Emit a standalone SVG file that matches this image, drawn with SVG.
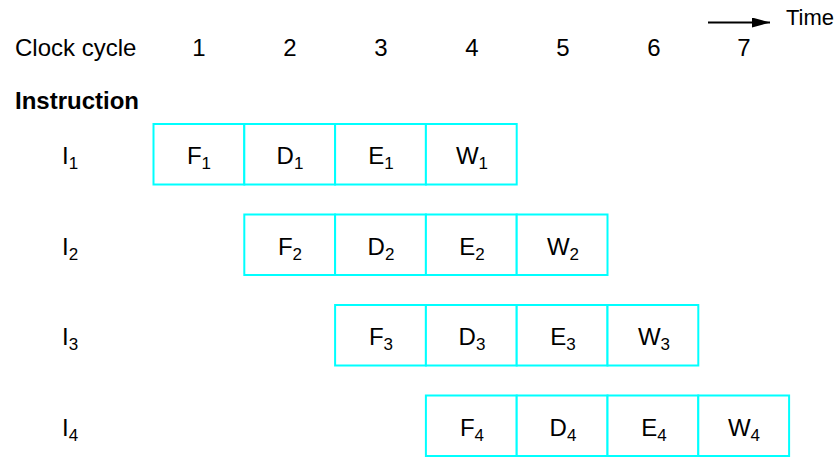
<svg xmlns="http://www.w3.org/2000/svg" width="840" height="458" viewBox="0 0 840 458">
<style>
text{font-family:"Liberation Sans",Arial,sans-serif;font-size:24px;fill:#000}
.b{font-weight:bold}
.c{text-anchor:middle}
.s{font-size:17px}
.t{font-size:22px}
.cell{fill:#fff;stroke:#00ffff;stroke-width:2}
</style>
<defs>
<marker id="ah" markerWidth="18" markerHeight="10" refX="18" refY="5" orient="auto" markerUnits="userSpaceOnUse"><path d="M0,0 L18,5 L0,10 Z" fill="#000"/></marker>
</defs>
<rect width="840" height="458" fill="#fff"/>
<g id="time">
<line x1="708" y1="22.5" x2="770" y2="22.5" stroke="#000" stroke-width="2" marker-end="url(#ah)"/>
<text class="t" x="786" y="25">Time</text>
</g>
<g id="header">
<text x="15" y="56">Clock cycle</text>
<text class="c" x="199" y="56">1</text>
<text class="c" x="290" y="56">2</text>
<text class="c" x="381" y="56">3</text>
<text class="c" x="472" y="56">4</text>
<text class="c" x="563" y="56">5</text>
<text class="c" x="654" y="56">6</text>
<text class="c" x="744" y="56">7</text>
<text class="b" x="15" y="109">Instruction</text>
</g>
<g id="row1">
<text x="62" y="164">I<tspan class="s" dy="5">1</tspan></text>
<rect class="cell" x="153.5" y="124" width="90.8" height="60.5"/>
<rect class="cell" x="244.3" y="124" width="90.8" height="60.5"/>
<rect class="cell" x="335.1" y="124" width="90.8" height="60.5"/>
<rect class="cell" x="425.9" y="124" width="90.8" height="60.5"/>
<text class="c" x="199" y="164">F<tspan class="s" dy="5">1</tspan></text>
<text class="c" x="290" y="164">D<tspan class="s" dy="5">1</tspan></text>
<text class="c" x="381" y="164">E<tspan class="s" dy="5">1</tspan></text>
<text class="c" x="472" y="164">W<tspan class="s" dy="5">1</tspan></text>
</g>
<g id="row2">
<text x="62" y="255">I<tspan class="s" dy="5">2</tspan></text>
<rect class="cell" x="244.3" y="214.5" width="90.8" height="60.5"/>
<rect class="cell" x="335.1" y="214.5" width="90.8" height="60.5"/>
<rect class="cell" x="425.9" y="214.5" width="90.8" height="60.5"/>
<rect class="cell" x="516.7" y="214.5" width="90.8" height="60.5"/>
<text class="c" x="290" y="255">F<tspan class="s" dy="5">2</tspan></text>
<text class="c" x="381" y="255">D<tspan class="s" dy="5">2</tspan></text>
<text class="c" x="472" y="255">E<tspan class="s" dy="5">2</tspan></text>
<text class="c" x="563" y="255">W<tspan class="s" dy="5">2</tspan></text>
</g>
<g id="row3">
<text x="62" y="345">I<tspan class="s" dy="5">3</tspan></text>
<rect class="cell" x="335.1" y="305" width="90.8" height="60.5"/>
<rect class="cell" x="425.9" y="305" width="90.8" height="60.5"/>
<rect class="cell" x="516.7" y="305" width="90.8" height="60.5"/>
<rect class="cell" x="607.5" y="305" width="90.8" height="60.5"/>
<text class="c" x="381" y="345">F<tspan class="s" dy="5">3</tspan></text>
<text class="c" x="472" y="345">D<tspan class="s" dy="5">3</tspan></text>
<text class="c" x="563" y="345">E<tspan class="s" dy="5">3</tspan></text>
<text class="c" x="654" y="345">W<tspan class="s" dy="5">3</tspan></text>
</g>
<g id="row4">
<text x="62" y="436">I<tspan class="s" dy="5">4</tspan></text>
<rect class="cell" x="425.9" y="395.5" width="90.8" height="60.5"/>
<rect class="cell" x="516.7" y="395.5" width="90.8" height="60.5"/>
<rect class="cell" x="607.5" y="395.5" width="90.8" height="60.5"/>
<rect class="cell" x="698.3" y="395.5" width="90.8" height="60.5"/>
<text class="c" x="472" y="436">F<tspan class="s" dy="5">4</tspan></text>
<text class="c" x="563" y="436">D<tspan class="s" dy="5">4</tspan></text>
<text class="c" x="654" y="436">E<tspan class="s" dy="5">4</tspan></text>
<text class="c" x="744" y="436">W<tspan class="s" dy="5">4</tspan></text>
</g>
</svg>
